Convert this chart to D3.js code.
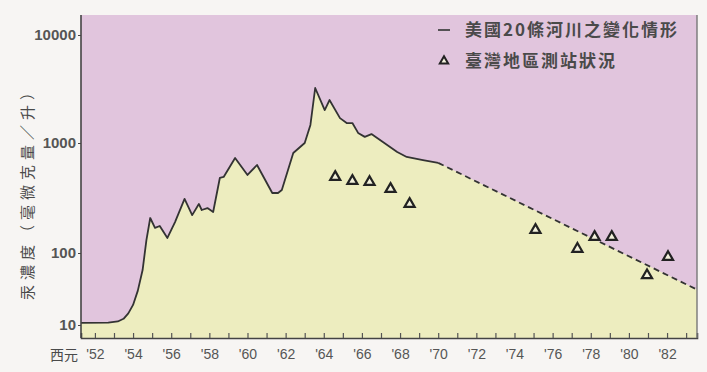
<!DOCTYPE html>
<html>
<head>
<meta charset="utf-8">
<script src="https://cdn.jsdelivr.net/npm/d3@7"></script>
<style>
  body { margin: 0; background: #f7f5f3; }
  svg { display: block; }
  .axis text { font-family: "Liberation Sans Narrow", "Liberation Sans", Arial, sans-serif; fill: #555; }
  .cjk { font-family: "Noto Sans CJK TC", "Noto Sans CJK SC", sans-serif; fill: #4a4a4a; }
</style>
</head>
<body>
<div id="chart"></div>
<script>
// US rivers, mercury concentration (solid part)
const usYears = [51.27, 52.7, 53.2, 53.5, 53.75, 54.0, 54.25, 54.5, 54.7, 54.9, 55.15, 55.4, 55.8, 56.2, 56.7, 57.1, 57.45,
  57.6, 57.9, 58.2, 58.55, 58.75, 59.35, 60.0, 60.5, 61.3, 61.6, 61.8, 62.4, 63.0, 63.3, 63.55,
  64.05, 64.3, 64.85, 65.2, 65.5, 65.8, 66.15, 66.5, 67.1, 67.85, 68.35, 69.2, 70.0];
const usValues = [10.7, 10.8, 11.2, 12.2, 14.5, 19, 30, 58, 131, 208, 169, 176, 137, 191, 310, 221, 279,
  246, 256, 236, 481, 491, 731, 512, 631, 351, 351, 374, 811, 1000, 1470, 3230,
  2020, 2500, 1700, 1530, 1530, 1240, 1140, 1210, 1020, 828, 747, 700, 660];
// projected trend (dashed)
const trendYears = [70.0, 83.57];
const trendValues = [660, 31];
// Taiwan measurements (triangles)
const twYears = [64.6, 65.5, 66.4, 67.5, 68.5, 75.1, 77.3, 78.2, 79.1, 80.95, 82.05];
const twValues = [491, 452, 442, 382, 279, 162, 109, 140, 140, 49, 88];

const xTicks = [52, 54, 56, 58, 60, 62, 64, 66, 68, 70, 72, 74, 76, 78, 80, 82];
const yTicks = [10, 100, 1000, 10000];

const width = 707, height = 372;
const plotLeft = 81, plotRight = 697, plotTop = 15, plotBottom = 338;

const svg = d3.select("#chart")
              .append("svg")
              .attr("width", width)
              .attr("height", height);

const x = d3.scaleLinear()
            .domain([51.27, 83.57])
            .range([plotLeft, plotRight]);

// the printed log axis is not evenly spaced, so use a piecewise log scale
const y = d3.scaleLog()
            .domain(yTicks)
            .range([325, 253, 143, 35]);

const usData = usYears.map(function(d, i) { return {year: d, value: usValues[i]}; });
const trendData = trendYears.map(function(d, i) { return {year: d, value: trendValues[i]}; });
const twData = twYears.map(function(d, i) { return {year: d, value: twValues[i]}; });

// pink background of plot
svg.append("rect")
   .attr("x", plotLeft)
   .attr("y", plotTop)
   .attr("width", plotRight - plotLeft)
   .attr("height", plotBottom - plotTop)
   .attr("fill", "#e1c5dd");

// yellow area below the curve
const area = d3.area()
               .x(function(d) { return x(d.year); })
               .y0(plotBottom)
               .y1(function(d) { return y(d.value); });

svg.append("path")
   .datum(usData.concat(trendData.slice(1)))
   .attr("d", area)
   .attr("fill", "#ededbf");

const line = d3.line()
               .x(function(d) { return x(d.year); })
               .y(function(d) { return y(d.value); });

svg.append("path")
   .datum(usData)
   .attr("d", line)
   .attr("fill", "none")
   .attr("stroke", "#333")
   .attr("stroke-width", 1.8)
   .attr("stroke-linejoin", "round");

svg.append("path")
   .datum(trendData)
   .attr("d", line)
   .attr("fill", "none")
   .attr("stroke", "#333")
   .attr("stroke-width", 1.8)
   .attr("stroke-dasharray", "6,4");

const tri = d3.symbol().type(d3.symbolTriangle).size(44);

svg.selectAll(".tw")
   .data(twData)
   .enter()
   .append("path")
   .attr("class", "tw")
   .attr("d", tri)
   .attr("transform", function(d) {
       return "translate(" + x(d.year) + "," + y(d.value) + ")";
   })
   .attr("fill", "#f3f2dc")
   .attr("stroke", "#222")
   .attr("stroke-width", 2.2);

// axes
const xAxis = d3.axisBottom(x)
                .tickValues(d3.range(52, 84))
                .tickSize(-5)
                .tickPadding(11)
                .tickFormat(function(d) { return xTicks.indexOf(d) >= 0 ? "'" + d : ""; });

const gx = svg.append("g")
              .attr("class", "axis")
              .attr("transform", "translate(0," + plotBottom + ")")
              .call(xAxis);
gx.select(".domain").attr("stroke", "#444").attr("stroke-width", 1.6);
gx.selectAll(".tick line").attr("stroke", "#555").attr("stroke-width", 1.2);
gx.selectAll("text").attr("font-size", 14);

const yAxis = d3.axisLeft(y)
                .tickValues(yTicks)
                .tickSize(3)
                .tickPadding(2)
                .tickFormat(d3.format("d"));

const gy = svg.append("g")
              .attr("class", "axis")
              .attr("transform", "translate(" + plotLeft + ",0)")
              .call(yAxis);
gy.select(".domain").remove();
gy.selectAll(".tick line").attr("stroke", "#444");
gy.selectAll("text").attr("font-size", 15).attr("font-weight", "bold").attr("fill", "#5a5a5a");

svg.append("line")
   .attr("x1", plotLeft).attr("x2", plotLeft)
   .attr("y1", plotTop).attr("y2", plotBottom)
   .attr("stroke", "#444")
   .attr("stroke-width", 1.6);

svg.append("line")
   .attr("x1", plotRight).attr("x2", plotRight)
   .attr("y1", plotTop).attr("y2", plotBottom)
   .attr("stroke", "#777")
   .attr("stroke-width", 1.4);

svg.append("text")
   .attr("class", "cjk")
   .attr("x", 50)
   .attr("y", 360)
   .attr("font-size", 14)
   .text("西元");

// y axis title
svg.append("text")
   .attr("class", "cjk")
   .attr("transform", "translate(33,190) rotate(-90)")
   .attr("text-anchor", "middle")
   .attr("font-size", 15)
   .attr("letter-spacing", 5)
   .attr("fill", "#777")
   .text("汞濃度（毫微克量／升）");

// legend
const legend = svg.append("g")
                  .attr("class", "legend");

legend.append("line")
      .attr("x1", 438).attr("x2", 450)
      .attr("y1", 30).attr("y2", 30)
      .attr("stroke", "#444")
      .attr("stroke-width", 1.8);

legend.append("text")
      .attr("class", "cjk")
      .attr("x", 465)
      .attr("y", 36)
      .attr("font-size", 17)
      .attr("font-weight", "bold")
      .attr("letter-spacing", 2)
      .text("美國20條河川之變化情形");

legend.append("path")
      .attr("d", d3.symbol().type(d3.symbolTriangle).size(30))
      .attr("transform", "translate(444,61)")
      .attr("fill", "#f3f2dc")
      .attr("stroke", "#222")
      .attr("stroke-width", 2);

legend.append("text")
      .attr("class", "cjk")
      .attr("x", 465)
      .attr("y", 67)
      .attr("font-size", 17)
      .attr("font-weight", "bold")
      .attr("letter-spacing", 2)
      .text("臺灣地區測站狀況");
</script>
</body>
</html>
